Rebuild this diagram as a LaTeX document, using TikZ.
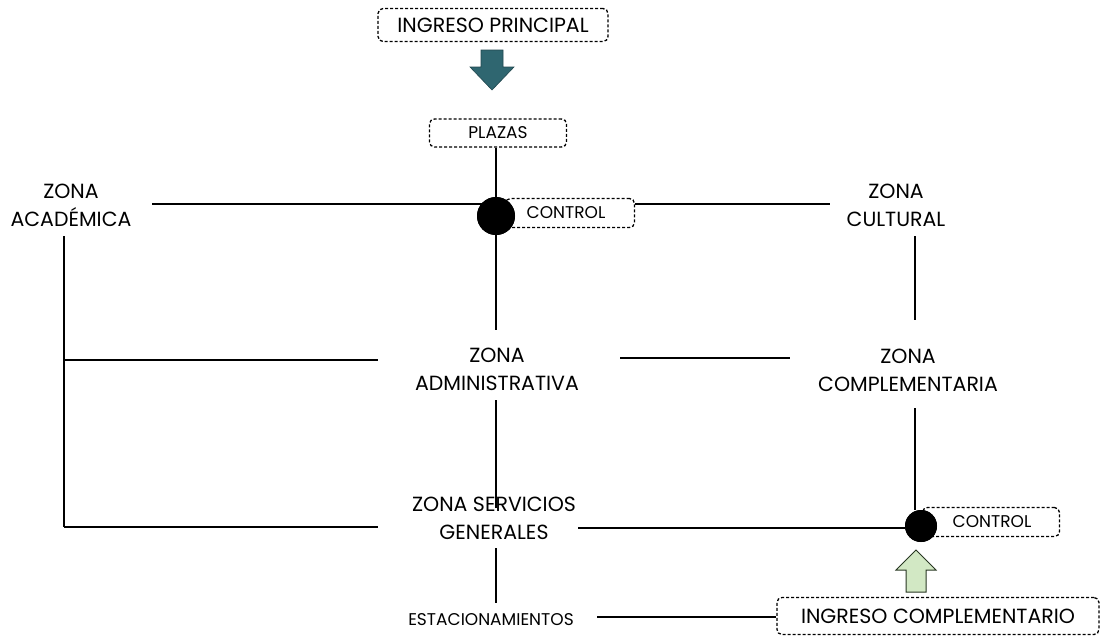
\documentclass[tikz,border=0pt]{standalone}
\usepackage{fontspec}
\setmainfont{Poppins}
\newcommand{\bigf}{\fontsize{20.5}{28}\selectfont}
\newcommand{\smallf}{\fontsize{17}{18}\selectfont}
\definecolor{teal}{RGB}{47,102,112}
\definecolor{lgreen}{RGB}{210,232,196}
\definecolor{dgreen}{RGB}{40,55,35}
\begin{document}
\begin{tikzpicture}[x=1pt,y=-1pt,
  dbox/.style={draw, dash pattern=on 3pt off 2pt, rounded corners=5pt, line width=1.3pt, inner sep=0pt},
  zone/.style={align=center, font=\bigf, inner sep=0pt},
  conn/.style={line width=2.4pt},
  blackdot/.style={circle, fill=black, inner sep=0pt, minimum size=38pt}]
\useasboundingbox (0,0) rectangle (1102,637);
% boxes
\node[dbox, minimum width=230pt, minimum height=33pt, font=\bigf] (ingp) at (493,25) {INGRESO PRINCIPAL};
\node[dbox, minimum width=137pt, minimum height=28pt, font=\smallf] (plazas) at (498,133) {PLAZAS};
\node[dbox, minimum width=129pt, minimum height=29pt, font=\smallf, text width=110pt, align=center] (ctrl1) at (570,213) {\hspace*{-8pt}CONTROL};
\node[dbox, minimum width=137pt, minimum height=29pt, font=\smallf, text width=120pt, align=center] (ctrl2) at (991,522) {\hspace*{2pt}CONTROL};
\node[dbox, minimum width=322pt, minimum height=37pt, font=\bigf] (ingc) at (938,616) {INGRESO COMPLEMENTARIO};
% zones
\node[zone] (aca) at (71,205) {ZONA\\ACADÉMICA};
\node[zone] (cul) at (896,205) {ZONA\\CULTURAL};
\node[zone] (adm) at (497,369) {ZONA\\ADMINISTRATIVA};
\node[zone] (com) at (908,370) {ZONA\\COMPLEMENTARIA};
\node[zone] (ser) at (494,518) {ZONA SERVICIOS\\GENERALES};
\node[font=\smallf, inner sep=0pt] (est) at (491,620) {ESTACIONAMIENTOS};
% dots
\node[blackdot] (dot1) at (496,216) {};
\node[blackdot, minimum size=32pt] (dot2) at (921,526) {};
% coordinates
\coordinate (acaR) at (152,204);
\coordinate (culL) at (830,204);
\coordinate (acaB) at (64,236);
\coordinate (leftmid) at (64,360);
\coordinate (leftbot) at (64,527);
\coordinate (admL) at (378,360);
\coordinate (serL) at (378,527);
\coordinate (admT) at (496,330);
\coordinate (admB) at (496,400);
\coordinate (serT) at (496,508);
\coordinate (serB) at (496,548);
\coordinate (estT) at (496,603);
\coordinate (admR) at (620,358);
\coordinate (comL) at (790,358);
\coordinate (culB) at (915,236);
\coordinate (comT) at (915,320);
\coordinate (comB) at (915,408);
\coordinate (serR) at (578,528);
\coordinate (estR) at (597,617);
% connectors
\draw[conn] (plazas.south -| dot1) -- (dot1);
\draw[conn] (dot1) -- (admT);
\draw[conn] (acaR) -- (acaR -| dot1);
\draw[conn] (ctrl1.east |- acaR) -- (culL);
\draw[conn] (acaB) -- (leftbot);
\draw[conn] (leftmid) -- (admL);
\draw[conn] (leftbot) -- (serL);
\draw[conn] (admB) -- (serT);
\draw[conn] (serB) -- (estT);
\draw[conn] (admR) -- (comL);
\draw[conn] (culB) -- (comT);
\draw[conn] (comB) -- (comB |- dot2.north);
\draw[conn] (serR) -- (dot2.west |- serR);
\draw[conn] (estR) -- (ingc.west |- estR);
\node[blackdot] at (dot1) {};
\node[blackdot, minimum size=32pt] at (dot2) {};
% arrows
\draw[teal!70!black, fill=teal, line width=0.6pt] (481,50) -- (503,50) -- (503,67) -- (514,67) -- (492,90) -- (470,67) -- (481,67) -- cycle;
\draw[dgreen, fill=lgreen, line width=1pt] (906,592) -- (926,592) -- (926,570) -- (936,570) -- (916,550) -- (896,570) -- (906,570) -- cycle;
\end{tikzpicture}
\end{document}
